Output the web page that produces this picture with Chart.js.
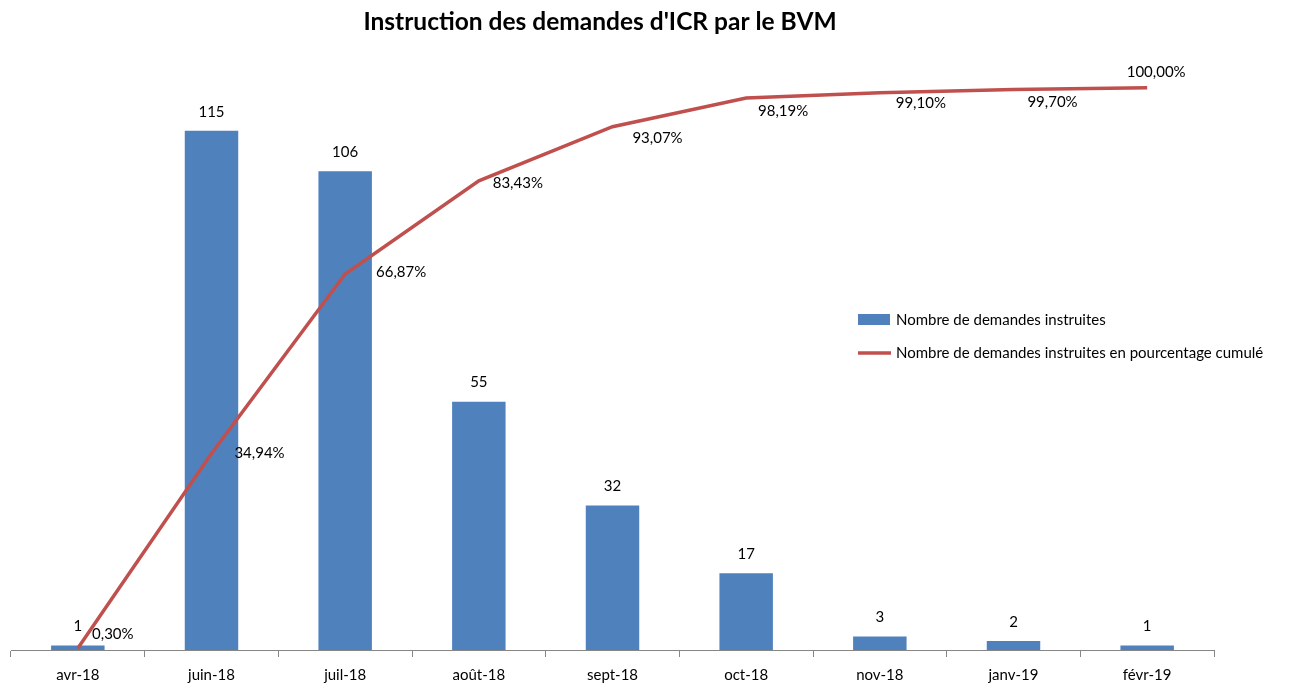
<!DOCTYPE html>
<html>
<head>
<meta charset="utf-8">
<script src="https://cdn.jsdelivr.net/npm/chart.js@4.4.0/dist/chart.umd.min.js"></script>
<style>
    html, body { margin: 0; padding: 0; background: #fff; }
    #wrap { width: 1295px; height: 689px; position: relative; }
</style>
</head>
<body>
<div id="wrap"><canvas id="bar-chart" width="1295" height="689"></canvas></div>
<script>
const labels = ['avr-18', 'juin-18', 'juil-18', 'août-18', 'sept-18', 'oct-18', 'nov-18', 'janv-19', 'févr-19'];
const demandes = [1, 115, 106, 55, 32, 17, 3, 2, 1];
const cumul = [0.30, 34.94, 66.87, 83.43, 93.07, 98.19, 99.10, 99.70, 100.00];

// where each percentage label sits, relative to its point (centre of text)
const pctOffsets = [[35, -14], [48, 0], [56, -2], [39, 2], [45, 11], [37, 13], [41, 10], [39, 13], [9, -16]];

const FONT = 'Lato, "Open Sans", sans-serif';

const labelsPlugin = {
    id: 'valueLabels',
    afterDatasetsDraw(chart) {
        const c = chart.ctx;
        c.save();
        c.textAlign = 'center';
        c.textBaseline = 'middle';
        c.fillStyle = '#000';

        // title, drawn by hand so it centres like the original
        c.font = 'bold 24.5px ' + FONT;
        c.fillText("Instruction des demandes d'ICR par le BVM", 600, 22);

        c.font = '15px ' + FONT;
        chart.getDatasetMeta(0).data.forEach((bar, i) => {
            c.fillText(demandes[i], bar.x, bar.y - 19);
        });
        chart.getDatasetMeta(1).data.forEach((pt, i) => {
            const txt = cumul[i].toFixed(2).replace('.', ',') + '%';
            c.fillText(txt, pt.x + pctOffsets[i][0], pt.y + pctOffsets[i][1]);
        });

        // legend
        c.textAlign = 'left';
        c.fillStyle = '#4F81BD';
        c.fillRect(858, 314, 32, 11);
        c.strokeStyle = '#C0504D';
        c.lineWidth = 3.5;
        c.beginPath();
        c.moveTo(858, 353);
        c.lineTo(891, 353);
        c.stroke();
        c.fillStyle = '#000';
        c.fillText('Nombre de demandes instruites', 896, 320);
        c.fillText('Nombre de demandes instruites en pourcentage cumulé', 896, 353);
        c.restore();
    }
};

const ctx = document.getElementById('bar-chart').getContext('2d');
const chart = new Chart(ctx, {
    type: 'bar',
    data: {
        labels: labels,
        datasets: [{
            label: 'Nombre de demandes instruites',
            data: demandes,
            backgroundColor: '#4F81BD',
            barPercentage: 0.4,
            categoryPercentage: 1,
            yAxisID: 'y',
            order: 2
        }, {
            type: 'line',
            label: 'Nombre de demandes instruites en pourcentage cumulé',
            data: cumul,
            borderColor: '#C0504D',
            borderWidth: 3.5,
            pointRadius: 0,
            tension: 0,
            yAxisID: 'y1',
            order: 1
        }]
    },
    options: {
        responsive: false,
        animation: false,
        layout: {
            padding: { top: 63, left: 11, right: 81, bottom: -5 }
        },
        scales: {
            x: {
                offset: true,
                grid: {
                    offset: true,
                    drawOnChartArea: false,
                    tickLength: 7,
                    color: '#868686'
                },
                border: { color: '#868686' },
                ticks: {
                    padding: 11,
                    color: '#000',
                    maxRotation: 0,
                    font: { family: FONT, size: 15, lineHeight: 1 }
                }
            },
            y: {
                display: false,
                min: 0,
                max: 130
            },
            y1: {
                display: false,
                min: 0,
                max: 104.4
            }
        },
        plugins: {
            legend: { display: false },
            tooltip: { enabled: false },
            title: { display: false }
        }
    },
    plugins: [labelsPlugin]
});
</script>
</body>
</html>
